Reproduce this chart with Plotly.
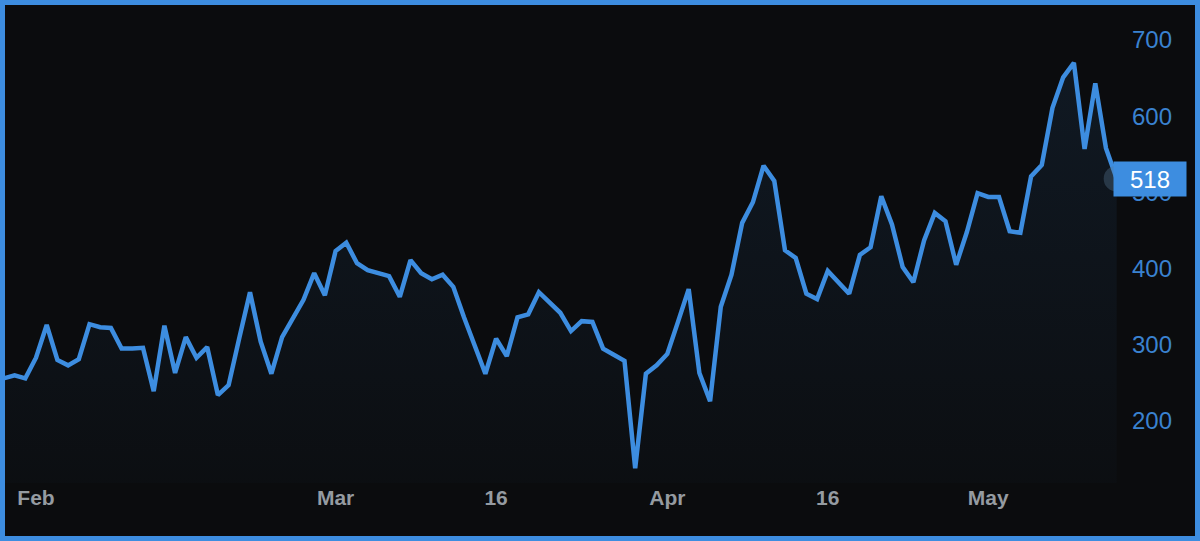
import datetime as dt
import pandas as pd
import plotly.graph_objects as go

# ---- data ----
start_date = "2023-01-29"
values = [
    256, 260, 256, 283, 326, 280, 273, 281, 327, 323,
    322, 295, 295, 296, 239, 325, 263, 310, 283, 297,
    234, 247, 309, 369, 304, 262, 310, 336, 359, 394,
    365, 423, 434, 407, 398, 394, 390, 363, 411, 394,
    386, 392, 376, 336, 298, 262, 308, 285, 336, 340,
    369, 355, 342, 318, 331, 330, 295, 287, 279, 138,
    262, 273, 288, 330, 373, 263, 226, 350, 392, 460,
    487, 535, 515, 424, 414, 367, 360, 397, 381, 367,
    418, 428, 495, 458, 402, 382, 437, 473, 462, 405,
    448, 499, 494, 494, 449, 447, 521, 536, 611, 651,
    670, 557, 643, 558, 518,
]
x_tick_dates = ["2023-02-01", "2023-03-01", "2023-03-16", "2023-04-01", "2023-04-16", "2023-05-01"]
x_tick_labels = ["Feb", "Mar", "16", "Apr", "16", "May"]
y_ticks = [200, 300, 400, 500, 600, 700]

dates = pd.date_range(start_date, periods=len(values), freq="D")

# ---- style ----
BLUE = "#3d8de0"
BG = "#0b0c0e"
W, H = 1200, 541
ML, MR, MT, MB = 5, 83, 5, 58
FONT = "Liberation Sans, Arial, sans-serif"

feb1 = pd.Timestamp("2023-02-01")
x_range = [feb1 + pd.Timedelta(days=-2.897), feb1 + pd.Timedelta(days=101.03)]
y_range = [118.6, 745.9]

fig = go.Figure()
fig.add_trace(go.Scatter(
    x=dates, y=values, mode="lines",
    line=dict(color=BLUE, width=4.5),
    fill="tozeroy",
    fillgradient=dict(type="vertical",
                      colorscale=[[0, "rgba(61,141,224,0.0)"], [1, "rgba(61,141,224,0.10)"]]),
    hoverinfo="skip", showlegend=False,
))
# halo on last point
fig.add_trace(go.Scatter(
    x=[dates[-1]], y=[values[-1]], mode="markers",
    marker=dict(size=26, color="rgba(90,120,150,0.35)", line=dict(width=0)),
    cliponaxis=False, hoverinfo="skip", showlegend=False,
))

fig.add_annotation(
    x=1, xref="paper", y=values[-1], yref="y",
    xanchor="left", yanchor="middle", xshift=-4,
    text=str(values[-1]), showarrow=False,
    font=dict(color="white", size=24, family=FONT),
    bgcolor=BLUE, width=68, height=30, borderpad=2, align="center",
)

pw = W - ML - MR
ph = H - MT - MB
fig.add_shape(
    type="rect", xref="paper", yref="paper",
    x0=-ML / pw, x1=1 + MR / pw, y0=-MB / ph, y1=1 + MT / ph,
    line=dict(color=BLUE, width=10), fillcolor="rgba(0,0,0,0)", layer="above",
)

fig.update_layout(
    width=W, height=H,
    margin=dict(l=ML, r=MR, t=MT, b=MB),
    paper_bgcolor=BG, plot_bgcolor=BG,
    font=dict(family=FONT),
    xaxis=dict(
        range=x_range, showgrid=False, zeroline=False, showline=False,
        tickvals=x_tick_dates, ticktext=x_tick_labels,
        tickfont=dict(color="#959ba1", size=21, weight="bold"), ticks="",
    ),
    yaxis=dict(
        range=y_range, side="right", showgrid=False, zeroline=False, showline=False,
        tickvals=y_ticks, ticktext=[str(v) for v in y_ticks],
        tickfont=dict(color="#3a82d0", size=24), ticks="", ticklabelstandoff=14,
    ),
)

fig.write_html(
    "out.html",
    config={"displayModeBar": False, "staticPlot": True},
    post_script="document.body.style.margin='0';document.body.style.overflow='hidden';",
)
